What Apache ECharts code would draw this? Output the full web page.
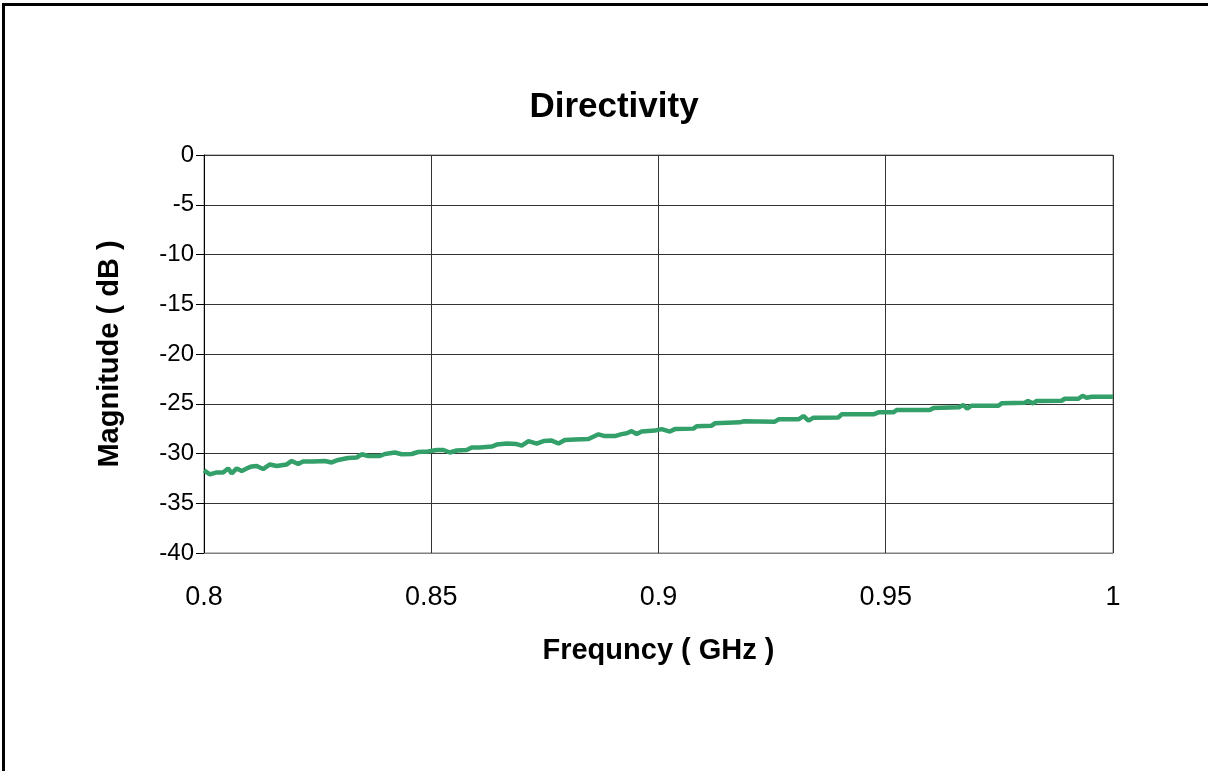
<!DOCTYPE html>
<html>
<head>
<meta charset="utf-8">
<script src="https://cdn.jsdelivr.net/npm/echarts@6/dist/echarts.min.js"></script>
<style>
html,body{margin:0;padding:0;background:#fff;}
#chart{width:1208px;height:771px;}
</style>
</head>
<body>
<div id="chart"></div>
<script>
const titleText = 'Directivity';
const xName = 'Frequncy ( GHz )';
const yName = 'Magnitude ( dB )';
const xTicks = [0.8, 0.85, 0.9, 0.95, 1];
const yTicks = [0, -5, -10, -15, -20, -25, -30, -35, -40];

const freqGHz = [
  0.8000, 0.8013, 0.8028, 0.8042, 0.8053, 0.8061, 0.8072, 0.8083, 0.8094, 0.8105,
  0.8116, 0.8130, 0.8145, 0.8160, 0.8182, 0.8193, 0.8207, 0.8218, 0.8240, 0.8266,
  0.8281, 0.8295, 0.8317, 0.8336, 0.8347, 0.8361, 0.8387, 0.8398, 0.8420, 0.8435,
  0.8457, 0.8471, 0.8493, 0.8512, 0.8527, 0.8541, 0.8556, 0.8578, 0.8589, 0.8607,
  0.8633, 0.8644, 0.8666, 0.8688, 0.8699, 0.8714, 0.8732, 0.8747, 0.8765, 0.8780,
  0.8794, 0.8816, 0.8846, 0.8868, 0.8882, 0.8904, 0.8919, 0.8930, 0.8941, 0.8952,
  0.8963, 0.8992, 0.9007, 0.9025, 0.9036, 0.9077, 0.9084, 0.9117, 0.9124, 0.9179,
  0.9187, 0.9256, 0.9264, 0.9308, 0.9319, 0.9330, 0.9341, 0.9396, 0.9403, 0.9473,
  0.9484, 0.9517, 0.9524, 0.9597, 0.9605, 0.9660, 0.9671, 0.9679, 0.9689, 0.9748,
  0.9755, 0.9806, 0.9813, 0.9824, 0.9832, 0.9887, 0.9894, 0.9924, 0.9933, 0.9942,
  0.9953, 1.0000
];
const magnitudeDB = [
  -31.70, -32.10, -31.90, -31.90, -31.50, -32.00, -31.50, -31.75, -31.50, -31.30,
  -31.26, -31.56, -31.10, -31.26, -31.10, -30.75, -31.05, -30.80, -30.80, -30.75,
  -30.90, -30.65, -30.45, -30.40, -30.08, -30.25, -30.25, -30.05, -29.90, -30.08,
  -30.05, -29.85, -29.80, -29.65, -29.65, -29.90, -29.70, -29.65, -29.40, -29.40,
  -29.30, -29.10, -29.00, -29.05, -29.20, -28.75, -29.00, -28.75, -28.70, -29.00,
  -28.65, -28.60, -28.55, -28.07, -28.25, -28.25, -28.05, -27.97, -27.75, -28.05,
  -27.80, -27.70, -27.55, -27.80, -27.55, -27.50, -27.26, -27.20, -26.97, -26.87,
  -26.77, -26.80, -26.57, -26.57, -26.23, -26.70, -26.40, -26.37, -26.06, -26.06,
  -25.86, -25.86, -25.63, -25.63, -25.43, -25.36, -25.13, -25.50, -25.20, -25.20,
  -24.96, -24.90, -24.72, -24.96, -24.72, -24.70, -24.50, -24.50, -24.20, -24.40,
  -24.30, -24.30
];

const chart = echarts.init(document.getElementById('chart'), null, {renderer: 'canvas'});
const seriesData = freqGHz.map((f, i) => [f, magnitudeDB[i]]);
const font = 'Liberation Sans, Arial, sans-serif';

chart.setOption({
  backgroundColor: '#ffffff',
  animation: false,
  title: {
    text: titleText,
    left: 609,
    textAlign: 'center',
    top: 85,
    textStyle: {fontFamily: font, fontSize: 35, fontWeight: 'bold', color: '#000'}
  },
  grid: {left: 204, right: 95, top: 155, bottom: 218, containLabel: false,
         show: true, borderColor: '#808080', borderWidth: 1, backgroundColor: '#fff'},
  xAxis: {
    type: 'value',
    min: xTicks[0], max: xTicks[xTicks.length - 1], interval: 0.05,
    name: xName, nameLocation: 'middle', nameGap: 83,
    nameTextStyle: {fontFamily: font, fontSize: 29, fontWeight: 'bold', color: '#000'},
    axisLine: {show: true, onZero: false, lineStyle: {color: '#808080', width: 1}},
    axisTick: {show: false},
    axisLabel: {fontFamily: font, fontSize: 27, color: '#000', margin: 31,
                formatter: v => String(+v.toFixed(2))},
    splitLine: {show: true, lineStyle: {color: '#333', width: 1}}
  },
  yAxis: {
    type: 'value',
    min: yTicks[yTicks.length - 1], max: yTicks[0], interval: 5,
    name: yName, nameLocation: 'middle', nameGap: 80, nameRotate: 90,
    nameTextStyle: {fontFamily: font, fontSize: 29, fontWeight: 'bold', color: '#000'},
    axisLine: {show: true, onZero: false, lineStyle: {color: '#000', width: 1}},
    axisTick: {show: true, inside: false, length: 8, lineStyle: {color: '#000'}},
    axisLabel: {fontFamily: font, fontSize: 24, color: '#000', margin: 10},
    splitLine: {show: true, lineStyle: {color: '#333', width: 1}}
  },
  series: [{
    type: 'line',
    data: seriesData,
    showSymbol: false,
    smooth: false,
    lineStyle: {color: '#33a06a', width: 4.5},
    itemStyle: {color: '#33a06a'},
    z: 5
  }],
  graphic: [
    {type: 'line', shape: {x1: 3, y1: 4.5, x2: 1208, y2: 4.5}, style: {stroke: '#000', lineWidth: 3}},
    {type: 'line', shape: {x1: 3.5, y1: 3, x2: 3.5, y2: 771}, style: {stroke: '#000', lineWidth: 3}}
  ]
});
</script>
</body>
</html>
